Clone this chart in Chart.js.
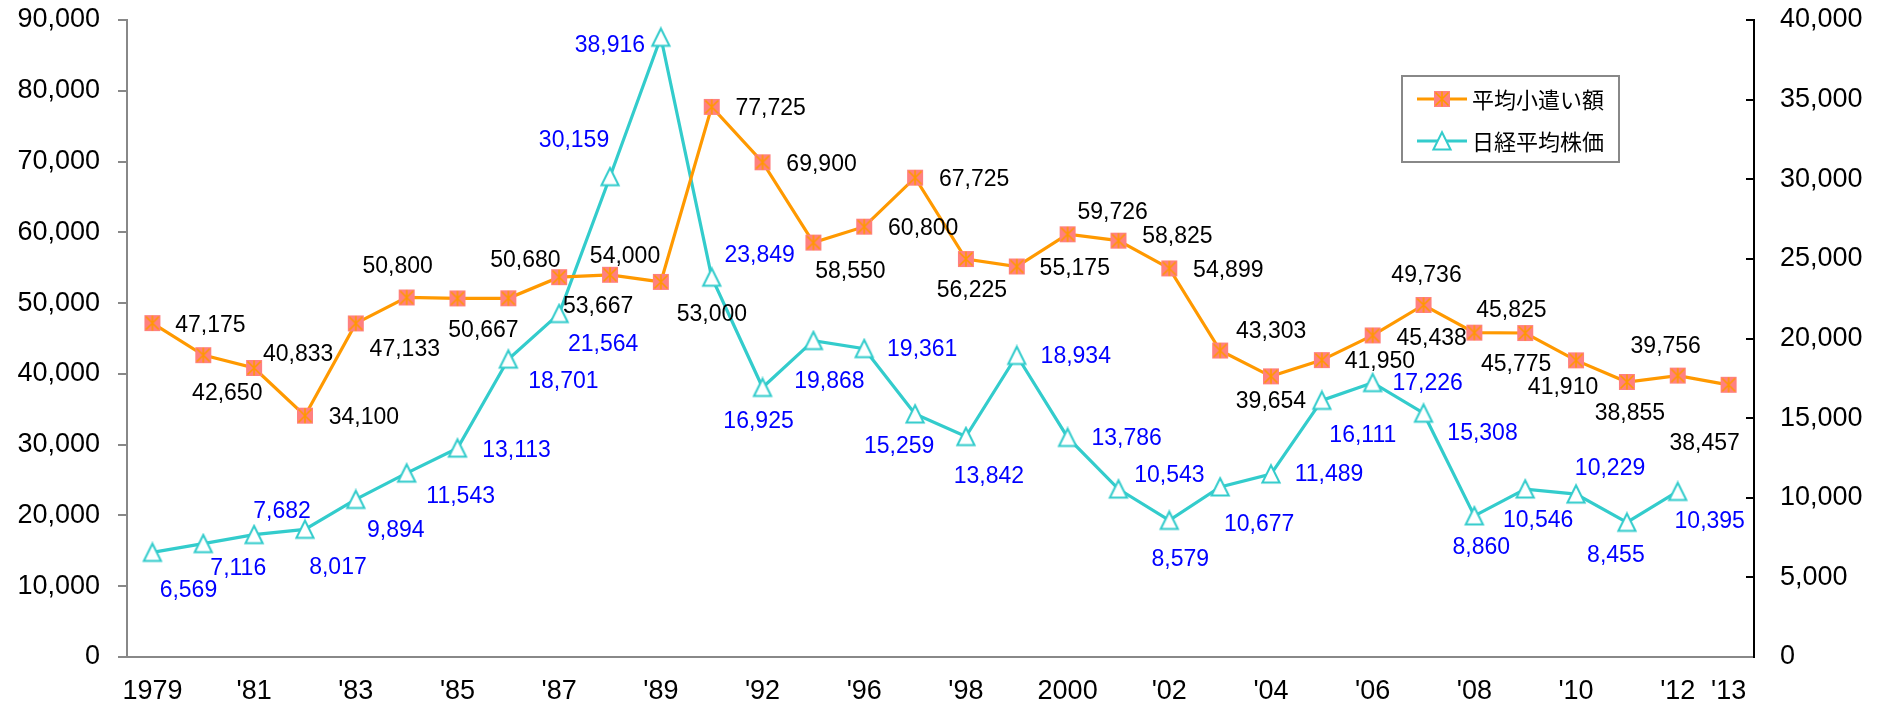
<!DOCTYPE html>
<html>
<head>
<meta charset="utf-8">
<script src="https://cdn.jsdelivr.net/npm/chart.js@4.4.1/dist/chart.umd.min.js"></script>
<style>
html,body{margin:0;padding:0;background:#fff;}
#wrap{position:relative;width:1883px;height:708px;}
</style>
</head>
<body>
<div id="wrap"><canvas id="c" width="1883" height="708"></canvas></div>
<script>
// ---- data ----
const years = [1979,1980,1981,1982,1983,1984,1985,1986,1987,1988,1989,1990,1992,1995,1996,1997,1998,1999,2000,2001,2002,2003,2004,2005,2006,2007,2008,2009,2010,2011,2012,2013];
const tickLabels = ['1979','',"'81",'',"'83",'',"'85",'',"'87",'',"'89",'',"'92",'',"'96",'',"'98",'','2000','',"'02",'',"'04",'',"'06",'',"'08",'',"'10",'',"'12","'13"];
const seriesNames = ['平均小遣い額','日経平均株価'];
const spending = [47175,42650,40833,34100,47133,50800,50667,50680,53667,54000,53000,77725,69900,58550,60800,67725,56225,55175,59726,58825,54899,43303,39654,41950,45438,49736,45825,45775,41910,38855,39756,38457];
const nikkei = [6569,7116,7682,8017,9894,11543,13113,18701,21564,30159,38916,23849,16925,19868,19361,15259,13842,18934,13786,10543,8579,10677,11489,16111,17226,15308,8860,10546,10229,8455,10395,null];
const leftTicks = {min:0, max:90000, step:10000};
const rightTicks = {min:0, max:40000, step:5000};

// label placement relative to each point [dx, dy]
const spendingLabelOffsets = [[58,3],[24,39],[44,-13],[59,2],[49,26],[-9,-31],[26,32],[17,-38],[39,29],[15,-18],[51,33],[59,2],[59,2],[37,29],[59,2],[59,2],[6,32],[58,2],[45,-22],[59,-4],[59,2],[51,-19],[0,25],[58,2],[59,3],[3,-29],[37,-22],[-9,32],[-13,27],[3,32],[-12,-29],[-24,59]];
const nikkeiLabelOffsets = [[36,38],[35,25],[28,-23],[33,38],[40,31],[54,23],[59,2],[55,22],[44,31],[-36,-36],[-51,8],[48,-22],[-4,34],[16,41],[58,1],[-16,33],[23,40],[59,1],[59,1],[51,-13],[11,39],[39,38],[58,1],[41,35],[55,1],[59,20],[7,32],[13,32],[34,-25],[-11,33],[32,30],null];

// ---- styles ----
const ORANGE = '#FF9900', SALMON = '#FF8080', CYAN = '#33CCCC';
const FONT = 'Liberation Sans, Arial, sans-serif';

function makeSquareMarker(){
  const c = document.createElement('canvas'); c.width = 18; c.height = 18;
  const g = c.getContext('2d');
  g.fillStyle = SALMON; g.fillRect(1,1,16,16);
  g.strokeStyle = ORANGE; g.lineWidth = 1.6;
  g.beginPath();
  g.moveTo(2.5,2.5); g.lineTo(15.5,15.5);
  g.moveTo(15.5,2.5); g.lineTo(2.5,15.5);
  g.moveTo(9,1.5); g.lineTo(9,16.5);
  g.stroke();
  return c;
}
function makeTriangleMarker(){
  const c = document.createElement('canvas'); c.width = 22; c.height = 22;
  const g = c.getContext('2d');
  g.beginPath(); g.moveTo(11,2.2); g.lineTo(19.6,19.6); g.lineTo(2.4,19.6); g.closePath();
  g.fillStyle = '#fff'; g.fill();
  g.strokeStyle = CYAN; g.lineWidth = 2; g.stroke();
  return c;
}
const squareMarker = makeSquareMarker();
const triangleMarker = makeTriangleMarker();

const fmt = v => Number(v).toLocaleString('en-US');

const dataLabelPlugin = {
  id: 'pointLabels',
  afterDatasetsDraw(chart){
    const ctx = chart.ctx;
    const offsets = [spendingLabelOffsets, nikkeiLabelOffsets];
    const colors = ['#000000', '#0000FF'];
    ctx.save();
    ctx.font = '23px ' + FONT;
    ctx.textAlign = 'center';
    ctx.textBaseline = 'middle';
    chart.data.datasets.forEach((ds, i) => {
      const meta = chart.getDatasetMeta(i);
      ctx.fillStyle = colors[i];
      ds.data.forEach((v, j) => {
        if (v === null || v === undefined) return;
        const off = offsets[i][j];
        if (!off) return;
        const el = meta.data[j];
        ctx.fillText(fmt(v), el.x + off[0], el.y + off[1]);
      });
    });
    ctx.restore();
  }
};

const boxLegendPlugin = {
  id: 'boxLegend',
  afterDraw(chart){
    const ctx = chart.ctx;
    const x0 = 1402, y0 = 76, w = 217, h = 86;
    ctx.save();
    ctx.fillStyle = '#fff';
    ctx.fillRect(x0, y0, w, h);
    ctx.strokeStyle = '#888';
    ctx.lineWidth = 2;
    ctx.strokeRect(x0, y0, w, h);
    const rows = [
      {y: 99, color: ORANGE, marker: squareMarker},
      {y: 141, color: CYAN, marker: triangleMarker}
    ];
    ctx.font = '22px "Noto Sans CJK JP", sans-serif';
    ctx.textBaseline = 'middle';
    ctx.textAlign = 'left';
    rows.forEach((r, i) => {
      ctx.strokeStyle = r.color; ctx.lineWidth = 3;
      ctx.beginPath(); ctx.moveTo(1417, r.y); ctx.lineTo(1467, r.y); ctx.stroke();
      ctx.drawImage(r.marker, 1442 - r.marker.width/2, r.y - r.marker.height/2);
      ctx.fillStyle = '#000';
      ctx.fillText(chart.data.datasets[i].label, 1472, r.y + 1);
    });
    ctx.restore();
  }
};

function noPad(s){ s.paddingTop = 0; s.paddingBottom = 0; s.paddingLeft = 0; s.paddingRight = 0; }

new Chart(document.getElementById('c'), {
  type: 'line',
  data: {
    labels: years,
    datasets: [
      {
        label: seriesNames[0], data: spending, yAxisID: 'y',
        borderColor: ORANGE, borderWidth: 3.2, backgroundColor: SALMON,
        pointStyle: squareMarker, pointRadius: 9, tension: 0, clip: false
      },
      {
        label: seriesNames[1], data: nikkei, yAxisID: 'y1',
        borderColor: CYAN, borderWidth: 3.2, backgroundColor: '#fff',
        pointStyle: triangleMarker, pointRadius: 10, tension: 0, clip: false, spanGaps: false
      }
    ]
  },
  options: {
    responsive: false,
    animation: false,
    devicePixelRatio: 1,
    layout: { padding: { top: 20, left: 0, right: 0, bottom: 0 }, autoPadding: false },
    plugins: { legend: { display: false }, tooltip: { enabled: false } },
    scales: {
      x: {
        type: 'category', offset: true,
        grid: { display: false, drawOnChartArea: false, drawTicks: false },
        border: { display: true, color: '#888', width: 2 },
        ticks: {
          autoSkip: false, maxRotation: 0, minRotation: 0, padding: 18,
          color: '#000', font: { family: FONT, size: 27 },
          callback: (v, i) => tickLabels[i]
        },
        afterFit(s){ s.height = 51; noPad(s); }
      },
      y: {
        position: 'left', min: leftTicks.min, max: leftTicks.max,
        grid: { drawOnChartArea: false, drawTicks: true, tickLength: 9, color: '#888', lineWidth: 2 },
        border: { display: true, color: '#888', width: 2 },
        ticks: { stepSize: leftTicks.step, padding: 18, color: '#000', font: { family: FONT, size: 27 }, callback: v => fmt(v) },
        afterFit(s){ s.width = 127; noPad(s); }
      },
      y1: {
        position: 'right', min: rightTicks.min, max: rightTicks.max,
        grid: { drawOnChartArea: false, drawTicks: true, tickLength: -8, color: '#000', lineWidth: 2 },
        border: { display: true, color: '#000', width: 2 },
        ticks: { stepSize: rightTicks.step, padding: 34, color: '#000', font: { family: FONT, size: 27 }, callback: v => fmt(v) },
        afterFit(s){ s.width = 129; noPad(s); }
      }
    }
  },
  plugins: [dataLabelPlugin, boxLegendPlugin]
});
</script>
</body>
</html>
